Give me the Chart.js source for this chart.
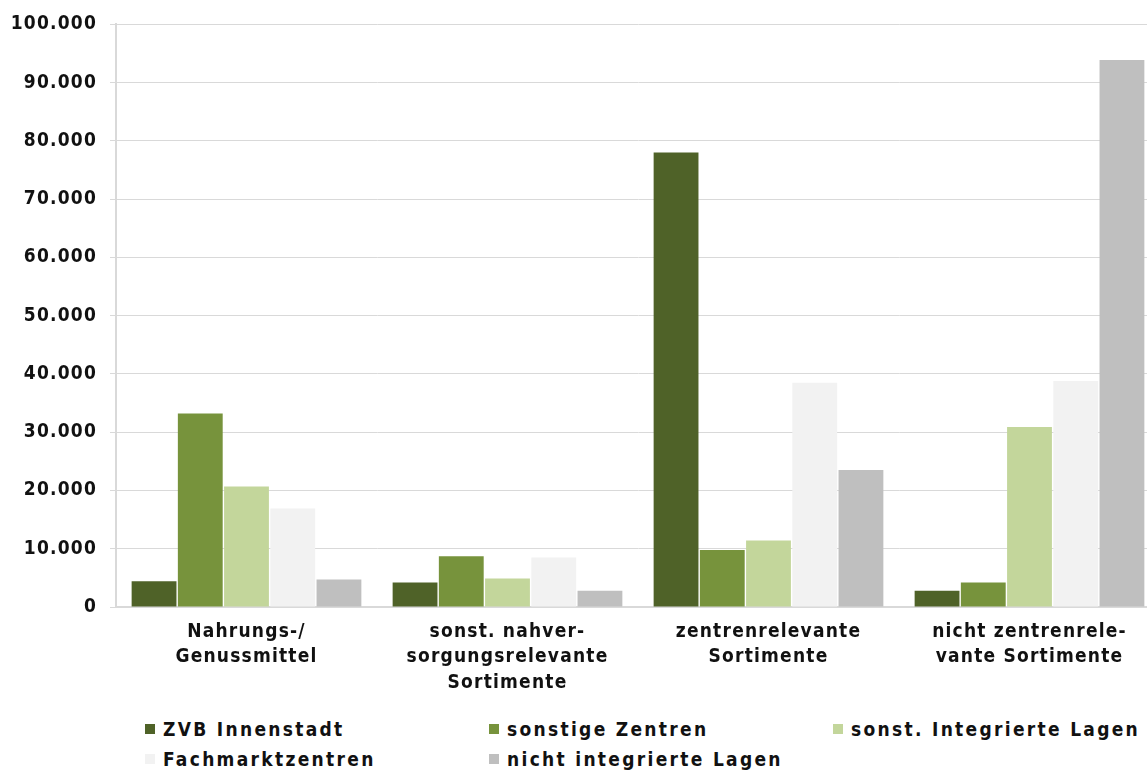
<!DOCTYPE html>
<html lang="de">
<head>
<meta charset="utf-8">
<script src="https://cdn.jsdelivr.net/npm/chart.js@4.4.1/dist/chart.umd.min.js"></script>
<style>
  html, body { margin: 0; padding: 0; background: #fff; overflow: hidden; }
  #wrap { position: absolute; left: 0; top: 0; width: 1161px; height: 705px; }
  #legend {
    position: absolute; left: 145px; top: 718px;
    display: grid; grid-template-columns: 344px 344px 344px; row-gap: 8px;
    font-family: "DejaVu Sans Condensed", "DejaVu Sans", sans-serif;
    font-weight: bold; font-size: 19px; letter-spacing: 2.3px; color: #111;
  }
  #legend div { display: flex; align-items: center; height: 22px; white-space: nowrap; }
  #legend span.box { width: 10px; height: 10px; margin-right: 8px; display: inline-block; }
</style>
</head>
<body>
<div id="wrap"><canvas id="chart"></canvas></div>
<div id="legend"></div>
<script>
const categories = [
	["Nahrungs-/", "Genussmittel"],
	["sonst. nahver-", "sorgungsrelevante", "Sortimente"],
	["zentrenrelevante", "Sortimente"],
	["nicht zentrenrele-", "vante Sortimente"]
]
const seriesNames = ["ZVB Innenstadt", "sonstige Zentren", "sonst. Integrierte Lagen", "Fachmarktzentren", "nicht integrierte Lagen"]
const zvbInnenstadt = [4400, 4200, 78000, 2800]
const sonstigeZentren = [33200, 8700, 9800, 4200]
const integrierteLagen = [20700, 4900, 11400, 30900]
const fachmarktzentren = [16900, 8500, 38500, 38800]
const nichtIntegriert = [4700, 2800, 23500, 93900]
const colors = ["#4f6228", "#77933c", "#c3d69b", "#f2f2f2", "#bfbfbf"]
const yMax = 100000
const yStep = 10000

const values = [zvbInnenstadt, sonstigeZentren, integrierteLagen, fachmarktzentren, nichtIntegriert]
const fontFamily = '"DejaVu Sans Condensed", "DejaVu Sans", sans-serif'

// thousands with a dot, e.g. 100.000
function fmt(v){
	return String(v).replace(/\B(?=(\d{3})+(?!\d))/g, ".")
}

// canvas state is reset on resize, so set the tracking again before layout and draw
const spacing = {
	id: "spacing",
	beforeLayout(c){ c.ctx.letterSpacing = "1.2px" },
	beforeDraw(c){ c.ctx.letterSpacing = "1.2px" }
}

let chart = new Chart(document.querySelector("#chart").getContext("2d"), {
	type: "bar",
	data: {
		labels: categories,
		datasets: values.map((data, i) => ({
			label: seriesNames[i],
			data: data,
			backgroundColor: colors[i],
			borderWidth: 0,
			categoryPercentage: 0.8855,
			barPercentage: 0.97
		}))
	},
	options: {
		responsive: true,
		maintainAspectRatio: false,
		animation: false,
		layout: { padding: { top: 12, right: 1, left: 0, bottom: 0 } },
		plugins: {
			legend: { display: false },
			tooltip: { enabled: false }
		},
		scales: {
			x: {
				grid: { display: false },
				border: { color: "#d9d9d9", width: 2 },
				ticks: {
					color: "#111",
					padding: 4,
					maxRotation: 0,
					autoSkip: false,
					font: { family: fontFamily, weight: "bold", size: 19, lineHeight: 1.34 }
				},
				afterFit(scale){ scale.height = 98 }
			},
			y: {
				min: 0,
				max: yMax,
				grid: { color: "#d9d9d9", lineWidth: 1, tickLength: 6 },
				border: { color: "#d9d9d9", width: 2 },
				ticks: {
					stepSize: yStep,
					color: "#111",
					padding: 13,
					font: { family: fontFamily, weight: "bold", size: 19 },
					callback: v => fmt(v)
				},
				afterFit(scale){ scale.width = 116 }
			}
		}
	},
	plugins: [spacing]
})

const legend = document.querySelector("#legend")
seriesNames.forEach((name, i) => {
	let item = document.createElement("div")
	let box = document.createElement("span")
	box.className = "box"
	box.style.background = colors[i]
	item.appendChild(box)
	let txt = document.createElement("span")
	txt.innerText = name
	item.appendChild(txt)
	legend.appendChild(item)
})
</script>
</body>
</html>
